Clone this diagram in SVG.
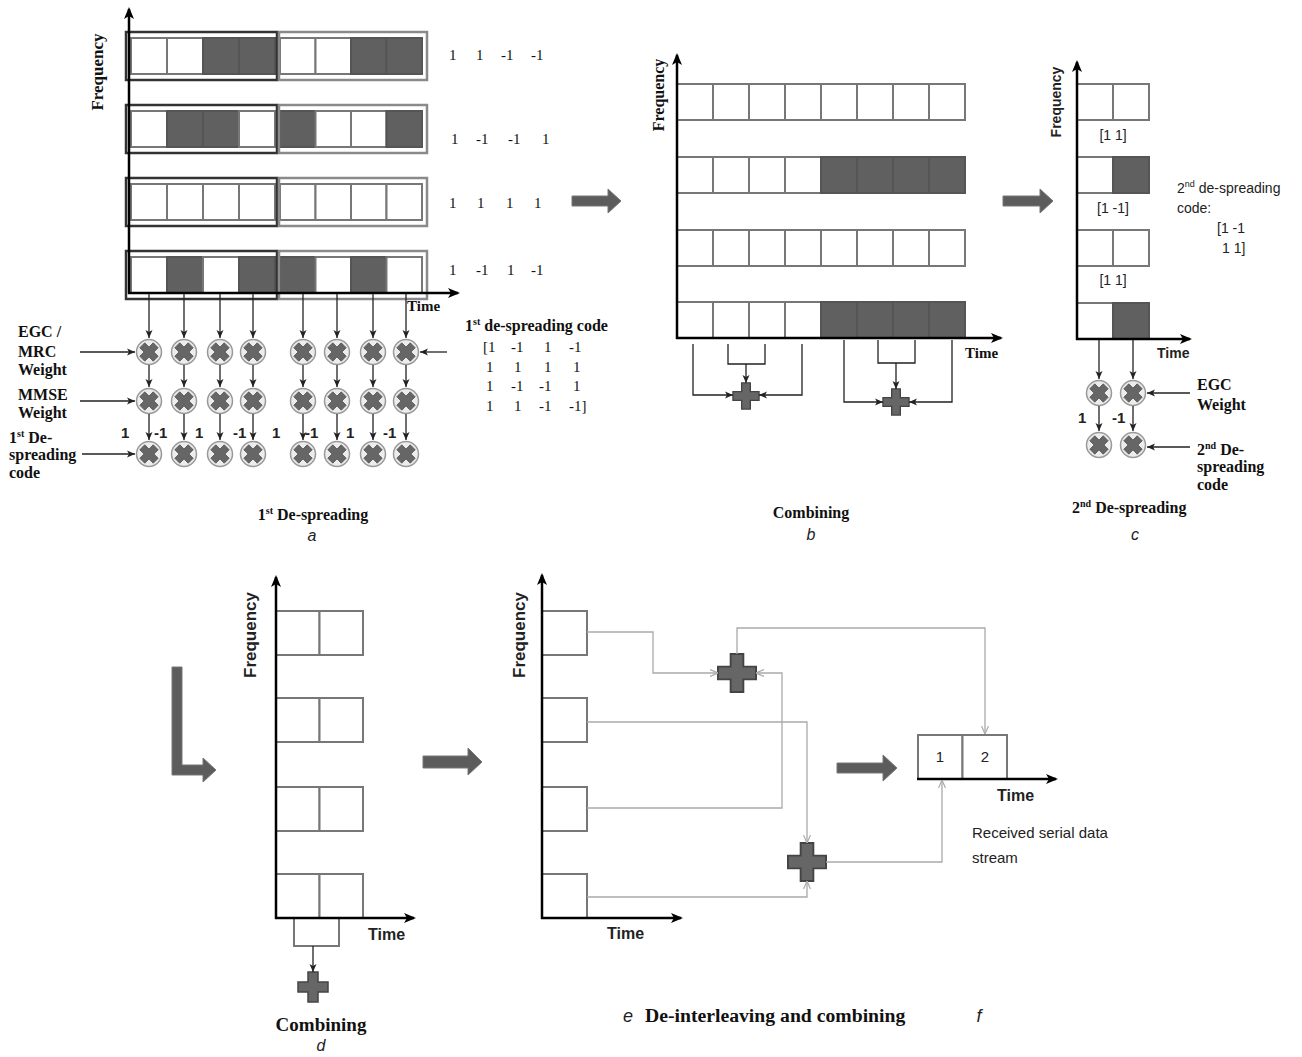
<svg xmlns="http://www.w3.org/2000/svg" xmlns:xlink="http://www.w3.org/1999/xlink" width="1302" height="1057" viewBox="0 0 1302 1057">
<style>
.c{fill:#fff;stroke:#777;stroke-width:2}
.d{fill:#606060;stroke:#555;stroke-width:2}
.ob{fill:none;stroke:#333;stroke-width:2.5}
.og{fill:none;stroke:#8a8a8a;stroke-width:2.5}
.ax{fill:none;stroke:#000;stroke-width:2.5;marker-end:url(#ax)}
.ln{fill:none;stroke:#222;stroke-width:1.3;marker-end:url(#ar)}
.lp{fill:none;stroke:#222;stroke-width:1.3}
.gl{fill:none;stroke:#aaa;stroke-width:1.3}
.ga{fill:none;stroke:#aaa;stroke-width:1.3;marker-end:url(#ag)}
.big{fill:#5c5c5c;stroke:#777;stroke-width:1}
.sb{font-family:'Liberation Serif','Times New Roman',serif;font-weight:bold;fill:#111}
.sr{font-family:'Liberation Serif','Times New Roman',serif;fill:#111}
.ns{font-family:'Liberation Sans',Arial,sans-serif;fill:#222}
.nb{font-family:'Liberation Sans',Arial,sans-serif;font-weight:bold;fill:#222}
.it{font-family:'Liberation Sans',Arial,sans-serif;font-style:italic;fill:#222;font-size:16px}
</style>
<defs>
<marker id="ax" viewBox="0 0 12 10" refX="10" refY="5" markerWidth="12" markerHeight="10" markerUnits="userSpaceOnUse" orient="auto"><path d="M0,0 L12,5 L0,10 L3,5 Z" fill="#000"/></marker>
<marker id="ar" viewBox="0 0 8 8" refX="8" refY="4" markerWidth="8" markerHeight="8" markerUnits="userSpaceOnUse" orient="auto"><path d="M0,0.5 L8,4 L0,7.5 L2,4 Z" fill="#222"/></marker>
<marker id="ag" viewBox="0 0 8 8" refX="8" refY="4" markerWidth="8" markerHeight="8" markerUnits="userSpaceOnUse" orient="auto"><path d="M0,0.5 L8,4 L0,7.5" fill="none" stroke="#aaa" stroke-width="1.2"/></marker>
<g id="mul"><circle r="12.5" fill="#ececec" stroke="#999" stroke-width="1.5"/><path d="M-3.5,-9.5 H3.5 V-3.5 H9.5 V3.5 H3.5 V9.5 H-3.5 V3.5 H-9.5 V-3.5 H-3.5 Z" transform="rotate(45)" fill="#666" stroke="#555" stroke-width="0.8"/></g>
<g id="plus"><path d="M-5,-15 H5 V-5 H15 V5 H5 V15 H-5 V5 H-15 V-5 H-5 Z" fill="#666" stroke="#444" stroke-width="1.5"/></g>
</defs>

<!-- ===== Panel a ===== -->
<g id="a-row1">
<rect class="c" x="131" y="38" width="36" height="36"/><rect class="c" x="167" y="38" width="36" height="36"/><rect class="d" x="203" y="38" width="36" height="36"/><rect class="d" x="239" y="38" width="36" height="36"/>
<rect class="c" x="280" y="38" width="35.5" height="36"/><rect class="c" x="315.5" y="38" width="35.5" height="36"/><rect class="d" x="351" y="38" width="35.5" height="36"/><rect class="d" x="386.5" y="38" width="35.5" height="36"/>
<rect class="ob" x="126" y="32" width="151" height="48"/><rect class="og" x="279" y="32" width="148" height="48"/>
</g>
<g id="a-row2">
<rect class="c" x="131" y="111" width="36" height="36"/><rect class="d" x="167" y="111" width="36" height="36"/><rect class="d" x="203" y="111" width="36" height="36"/><rect class="c" x="239" y="111" width="36" height="36"/>
<rect class="d" x="280" y="111" width="35.5" height="36"/><rect class="c" x="315.5" y="111" width="35.5" height="36"/><rect class="c" x="351" y="111" width="35.5" height="36"/><rect class="d" x="386.5" y="111" width="35.5" height="36"/>
<rect class="ob" x="126" y="105" width="151" height="48"/><rect class="og" x="279" y="105" width="148" height="48"/>
</g>
<g id="a-row3">
<rect class="c" x="131" y="184" width="36" height="36"/><rect class="c" x="167" y="184" width="36" height="36"/><rect class="c" x="203" y="184" width="36" height="36"/><rect class="c" x="239" y="184" width="36" height="36"/>
<rect class="c" x="280" y="184" width="35.5" height="36"/><rect class="c" x="315.5" y="184" width="35.5" height="36"/><rect class="c" x="351" y="184" width="35.5" height="36"/><rect class="c" x="386.5" y="184" width="35.5" height="36"/>
<rect class="ob" x="126" y="178" width="151" height="48"/><rect class="og" x="279" y="178" width="148" height="48"/>
</g>
<g id="a-row4">
<rect class="c" x="131" y="257" width="36" height="36"/><rect class="d" x="167" y="257" width="36" height="36"/><rect class="c" x="203" y="257" width="36" height="36"/><rect class="d" x="239" y="257" width="36" height="36"/>
<rect class="d" x="280" y="257" width="35.5" height="36"/><rect class="c" x="315.5" y="257" width="35.5" height="36"/><rect class="d" x="351" y="257" width="35.5" height="36"/><rect class="c" x="386.5" y="257" width="35.5" height="36"/>
<rect class="ob" x="126" y="251" width="151" height="48"/><rect class="og" x="279" y="251" width="148" height="48"/>
</g>
<g id="a-axes">
<path class="ax" d="M129,294 V9"/>
<path class="ax" d="M128,293 H458"/>
<text class="sb" font-size="17" transform="translate(103,72) rotate(-90)" text-anchor="middle">Frequency</text>
<text class="sb" font-size="15" x="407" y="311">Time</text>
</g>
<g id="a-codes" class="sr" font-size="15">
<text x="449" y="60">1</text><text x="476" y="60">1</text><text x="501" y="60">-1</text><text x="531" y="60">-1</text>
<text x="451" y="144">1</text><text x="476" y="144">-1</text><text x="508" y="144">-1</text><text x="542" y="144">1</text>
<text x="449" y="208">1</text><text x="477" y="208">1</text><text x="506" y="208">1</text><text x="534" y="208">1</text>
<text x="449" y="275">1</text><text x="476" y="275">-1</text><text x="507" y="275">1</text><text x="531" y="275">-1</text>
</g>
<g id="a-matrix">
<text class="sb" font-size="16" x="465" y="331">1<tspan font-size="10" dy="-6">st</tspan><tspan dy="6"> de-spreading code</tspan></text>
<g class="sr" font-size="15">
<text x="483" y="352">[1</text><text x="511" y="352">-1</text><text x="544" y="352">1</text><text x="569" y="352">-1</text>
<text x="486" y="372">1</text><text x="514" y="372">1</text><text x="544" y="372">1</text><text x="573" y="372">1</text>
<text x="486" y="391">1</text><text x="511" y="391">-1</text><text x="539" y="391">-1</text><text x="573" y="391">1</text>
<text x="486" y="411">1</text><text x="514" y="411">1</text><text x="539" y="411">-1</text><text x="569" y="411">-1]</text>
</g>
</g>
<g id="a-mult-row1">
<use href="#mul" x="149" y="352"/><use href="#mul" x="184" y="352"/><use href="#mul" x="220" y="352"/><use href="#mul" x="253" y="352"/>
<use href="#mul" x="303" y="352"/><use href="#mul" x="337" y="352"/><use href="#mul" x="373" y="352"/><use href="#mul" x="406" y="352"/>
</g>
<g id="a-mult-row2">
<use href="#mul" x="149" y="401"/><use href="#mul" x="184" y="401"/><use href="#mul" x="220" y="401"/><use href="#mul" x="253" y="401"/>
<use href="#mul" x="303" y="401"/><use href="#mul" x="337" y="401"/><use href="#mul" x="373" y="401"/><use href="#mul" x="406" y="401"/>
</g>
<g id="a-mult-row3">
<use href="#mul" x="149" y="454"/><use href="#mul" x="184" y="454"/><use href="#mul" x="220" y="454"/><use href="#mul" x="253" y="454"/>
<use href="#mul" x="303" y="454"/><use href="#mul" x="337" y="454"/><use href="#mul" x="373" y="454"/><use href="#mul" x="406" y="454"/>
</g>
<g id="a-labels">
<g class="sb" font-size="16">
<text x="18" y="337">EGC /</text><text x="18" y="357">MRC</text><text x="18" y="375">Weight</text>
<text x="18" y="400">MMSE</text><text x="18" y="418">Weight</text>
<text x="9" y="443">1<tspan font-size="10" dy="-6">st</tspan><tspan dy="6"> De-</tspan></text><text x="9" y="460">spreading</text><text x="9" y="478">code</text>
</g>
<g class="nb" font-size="15">
<text x="121" y="438">1</text><text x="154" y="438">-1</text><text x="195" y="438">1</text><text x="233" y="438">-1</text>
<text x="272" y="438">1</text><text x="305" y="438">-1</text><text x="346" y="438">1</text><text x="383" y="438">-1</text>
</g>
<text class="sb" font-size="16" x="313" y="520" text-anchor="middle">1<tspan font-size="10" dy="-6">st</tspan><tspan dy="6"> De-spreading</tspan></text>
<text class="it" x="312" y="541" text-anchor="middle">a</text>
</g>

<!-- ===== Panel b ===== -->
<g id="b-row1">
<rect class="c" x="677" y="84" width="36" height="36"/><rect class="c" x="713" y="84" width="36" height="36"/><rect class="c" x="749" y="84" width="36" height="36"/><rect class="c" x="785" y="84" width="36" height="36"/>
<rect class="c" x="821" y="84" width="36" height="36"/><rect class="c" x="857" y="84" width="36" height="36"/><rect class="c" x="893" y="84" width="36" height="36"/><rect class="c" x="929" y="84" width="36" height="36"/>
</g>
<g id="b-row2">
<rect class="c" x="677" y="157" width="36" height="36"/><rect class="c" x="713" y="157" width="36" height="36"/><rect class="c" x="749" y="157" width="36" height="36"/><rect class="c" x="785" y="157" width="36" height="36"/>
<rect class="d" x="821" y="157" width="36" height="36"/><rect class="d" x="857" y="157" width="36" height="36"/><rect class="d" x="893" y="157" width="36" height="36"/><rect class="d" x="929" y="157" width="36" height="36"/>
</g>
<g id="b-row3">
<rect class="c" x="677" y="230" width="36" height="36"/><rect class="c" x="713" y="230" width="36" height="36"/><rect class="c" x="749" y="230" width="36" height="36"/><rect class="c" x="785" y="230" width="36" height="36"/>
<rect class="c" x="821" y="230" width="36" height="36"/><rect class="c" x="857" y="230" width="36" height="36"/><rect class="c" x="893" y="230" width="36" height="36"/><rect class="c" x="929" y="230" width="36" height="36"/>
</g>
<g id="b-row4">
<rect class="c" x="677" y="302" width="36" height="36"/><rect class="c" x="713" y="302" width="36" height="36"/><rect class="c" x="749" y="302" width="36" height="36"/><rect class="c" x="785" y="302" width="36" height="36"/>
<rect class="d" x="821" y="302" width="36" height="36"/><rect class="d" x="857" y="302" width="36" height="36"/><rect class="d" x="893" y="302" width="36" height="36"/><rect class="d" x="929" y="302" width="36" height="36"/>
</g>
<g id="b-axes">
<path class="ax" d="M677,339 V55"/>
<path class="ax" d="M676,338 H1001"/>
<text class="sb" font-size="16" transform="translate(664,95) rotate(-90)" text-anchor="middle">Frequency</text>
<text class="sb" font-size="15" x="965" y="358">Time</text>
</g>
<g id="b-plus1"><use href="#plus" transform="translate(746,396) scale(0.87)"/></g>
<g id="b-plus2"><use href="#plus" transform="translate(896,402) scale(0.87)"/></g>
<g id="b-labels">
<text class="sb" font-size="16" x="811" y="518" text-anchor="middle">Combining</text>
<text class="it" x="811" y="540" text-anchor="middle">b</text>
</g>

<!-- ===== Panel c ===== -->
<g id="c-row1"><rect class="c" x="1077" y="84" width="36" height="36"/><rect class="c" x="1113" y="84" width="36" height="36"/></g>
<g id="c-row2"><rect class="c" x="1077" y="157" width="36" height="36"/><rect class="d" x="1113" y="157" width="36" height="36"/></g>
<g id="c-row3"><rect class="c" x="1077" y="230" width="36" height="36"/><rect class="c" x="1113" y="230" width="36" height="36"/></g>
<g id="c-row4"><rect class="c" x="1077" y="303" width="36" height="36"/><rect class="d" x="1113" y="303" width="36" height="36"/></g>
<g id="c-axes">
<path class="ax" d="M1077,340 V62"/>
<path class="ax" d="M1076,339 H1190"/>
<text class="nb" font-size="14" transform="translate(1061,102) rotate(-90)" text-anchor="middle">Frequency</text>
<text class="nb" font-size="14" x="1157" y="358">Time</text>
</g>
<g id="c-codes" class="ns" font-size="14">
<text x="1113" y="140" text-anchor="middle">[1  1]</text>
<text x="1113" y="213" text-anchor="middle">[1 -1]</text>
<text x="1113" y="285" text-anchor="middle">[1  1]</text>
<text x="1177" y="193">2<tspan font-size="9" dy="-6">nd</tspan><tspan dy="6"> de-spreading</tspan></text>
<text x="1177" y="213">code:</text>
<text x="1217" y="233">[1 -1</text>
<text x="1222" y="253">1  1]</text>
</g>
<g id="c-mult">
<use href="#mul" x="1099" y="393"/><use href="#mul" x="1133" y="393"/>
<use href="#mul" x="1099" y="445"/><use href="#mul" x="1133" y="445"/>
</g>
<g id="c-labels">
<text class="nb" font-size="15" x="1078" y="423">1</text><text class="nb" font-size="15" x="1112" y="423">-1</text>
<g class="sb" font-size="16">
<text x="1197" y="390">EGC</text><text x="1197" y="410">Weight</text>
<text x="1197" y="455">2<tspan font-size="10" dy="-6">nd</tspan><tspan dy="6"> De-</tspan></text><text x="1197" y="472">spreading</text><text x="1197" y="490">code</text>
<text x="1072" y="513">2<tspan font-size="10" dy="-6">nd</tspan><tspan dy="6">  De-spreading</tspan></text>
</g>
<text class="it" x="1135" y="540" text-anchor="middle">c</text>
</g>

<!-- ===== Panel d ===== -->
<g id="d-cells">
<rect class="c" x="276" y="611" width="43.5" height="44"/><rect class="c" x="319.5" y="611" width="43.5" height="44"/>
<rect class="c" x="276" y="698" width="43.5" height="44"/><rect class="c" x="319.5" y="698" width="43.5" height="44"/>
<rect class="c" x="276" y="787" width="43.5" height="44"/><rect class="c" x="319.5" y="787" width="43.5" height="44"/>
<rect class="c" x="276" y="874" width="43.5" height="44"/><rect class="c" x="319.5" y="874" width="43.5" height="44"/>
</g>
<g id="d-box"><rect class="c" x="294" y="918" width="45" height="28"/></g>
<g id="d-axes">
<path class="ax" d="M276,919 V577"/>
<path class="ax" d="M275,918 H414"/>
<text class="nb" font-size="17" transform="translate(256,635) rotate(-90)" text-anchor="middle">Frequency</text>
<text class="nb" font-size="16" x="368" y="940">Time</text>
</g>
<g id="d-plus"><use href="#plus" transform="translate(313,987)"/></g>
<g id="d-labels">
<text class="sb" font-size="19" x="321" y="1031" text-anchor="middle">Combining</text>
<text class="it" x="321" y="1051" text-anchor="middle">d</text>
</g>

<!-- ===== Panel e ===== -->
<g id="e-cells">
<rect class="c" x="542" y="611" width="45" height="44"/>
<rect class="c" x="542" y="698" width="45" height="44"/>
<rect class="c" x="542" y="787" width="45" height="44"/>
<rect class="c" x="542" y="874" width="45" height="44"/>
</g>
<g id="e-axes">
<path class="ax" d="M542,919 V575"/>
<path class="ax" d="M541,918 H681"/>
<text class="nb" font-size="17" transform="translate(525,635) rotate(-90)" text-anchor="middle">Frequency</text>
<text class="nb" font-size="16" x="607" y="939">Time</text>
</g>
<g id="e-plus1"><use href="#plus" transform="translate(737,673) scale(1.27)"/></g>
<g id="e-plus2"><use href="#plus" transform="translate(807,862) scale(1.27)"/></g>
<g id="e-labels">
<text class="it" font-size="18" x="628" y="1022" text-anchor="middle" style="font-size:18px">e</text>
<text class="sb" font-size="19.7" x="645" y="1022">De-interleaving and combining</text>
</g>

<!-- ===== Panel f ===== -->
<g id="f-cells">
<rect class="c" x="918" y="735" width="44.5" height="44"/><rect class="c" x="962.5" y="735" width="44.5" height="44"/>
<text class="ns" font-size="15" x="940" y="762" text-anchor="middle">1</text>
<text class="ns" font-size="15" x="985" y="762" text-anchor="middle">2</text>
</g>
<g id="f-axes">
<path class="ax" d="M917,779 H1056"/>
<text class="nb" font-size="16" x="997" y="801">Time</text>
</g>
<g id="f-labels">
<text class="ns" font-size="15" x="972" y="838">Received serial data</text>
<text class="ns" font-size="15" x="972" y="863">stream</text>
<text class="it" x="979" y="1022" text-anchor="middle" style="font-size:18px">f</text>
</g>

<!-- ===== Big arrows ===== -->
<g id="big-arrows">
<polygon class="big" points="572,196 608,196 608,189 621,201 608,213 608,206 572,206"/>
<polygon class="big" points="1003,196 1040,196 1040,189 1053,201 1040,213 1040,206 1003,206"/>
<polygon class="big" points="172,667 182,667 182,765 203,765 203,758 216,770 203,782 203,775 172,775"/>
<polygon class="big" points="423,756 468,756 468,748 482,762 468,775 468,768 423,768"/>
<polygon class="big" points="837,763 883,763 883,755 897,768 883,781 883,773 837,773"/>
</g>

<!-- ===== Connectors ===== -->
<g id="connectors">
<path class="ln" d="M149,294 V338"/><path class="ln" d="M184,294 V338"/><path class="ln" d="M220,294 V338"/><path class="ln" d="M253,294 V338"/>
<path class="ln" d="M303,294 V338"/><path class="ln" d="M337,294 V338"/><path class="ln" d="M373,294 V338"/><path class="ln" d="M406,294 V338"/>
<path class="ln" d="M149,365 V387"/><path class="ln" d="M184,365 V387"/><path class="ln" d="M220,365 V387"/><path class="ln" d="M253,365 V387"/>
<path class="ln" d="M303,365 V387"/><path class="ln" d="M337,365 V387"/><path class="ln" d="M373,365 V387"/><path class="ln" d="M406,365 V387"/>
<path class="ln" d="M149,414 V440"/><path class="ln" d="M184,414 V440"/><path class="ln" d="M220,414 V440"/><path class="ln" d="M253,414 V440"/>
<path class="ln" d="M303,414 V440"/><path class="ln" d="M337,414 V440"/><path class="ln" d="M373,414 V440"/><path class="ln" d="M406,414 V440"/>
<path class="ln" d="M80,352 H135"/><path class="ln" d="M80,401 H135"/><path class="ln" d="M82,454 H135"/><path class="ln" d="M447,352 H420"/>
<path class="ln" d="M693,344 V395 H733"/><path class="ln" d="M802,344 V395 H759"/><path class="lp" d="M728,344 V364 H765 V344"/><path class="ln" d="M746,364 V383"/>
<path class="ln" d="M844,340 V402 H883"/><path class="ln" d="M952,340 V402 H909"/><path class="lp" d="M878,340 V363 H915 V340"/><path class="ln" d="M896,363 V389"/>
<path class="ln" d="M1099,340 V379"/><path class="ln" d="M1133,340 V379"/><path class="ln" d="M1099,406 V431"/><path class="ln" d="M1133,406 V431"/>
<path class="ln" d="M1190,393 H1147"/><path class="ln" d="M1190,447 H1147"/>
<path class="ln" d="M313,946 V972"/>
<path class="ga" d="M587,632 H653 V673 H718"/>
<path class="ga" d="M587,808 H782 V673 H756"/>
<path class="ga" d="M737,654 V628 H985 V734"/>
<path class="ga" d="M587,722 H807 V843"/>
<path class="ga" d="M587,897 H807 V881"/>
<path class="ga" d="M826,862 H942 V780"/>
</g>
</svg>
